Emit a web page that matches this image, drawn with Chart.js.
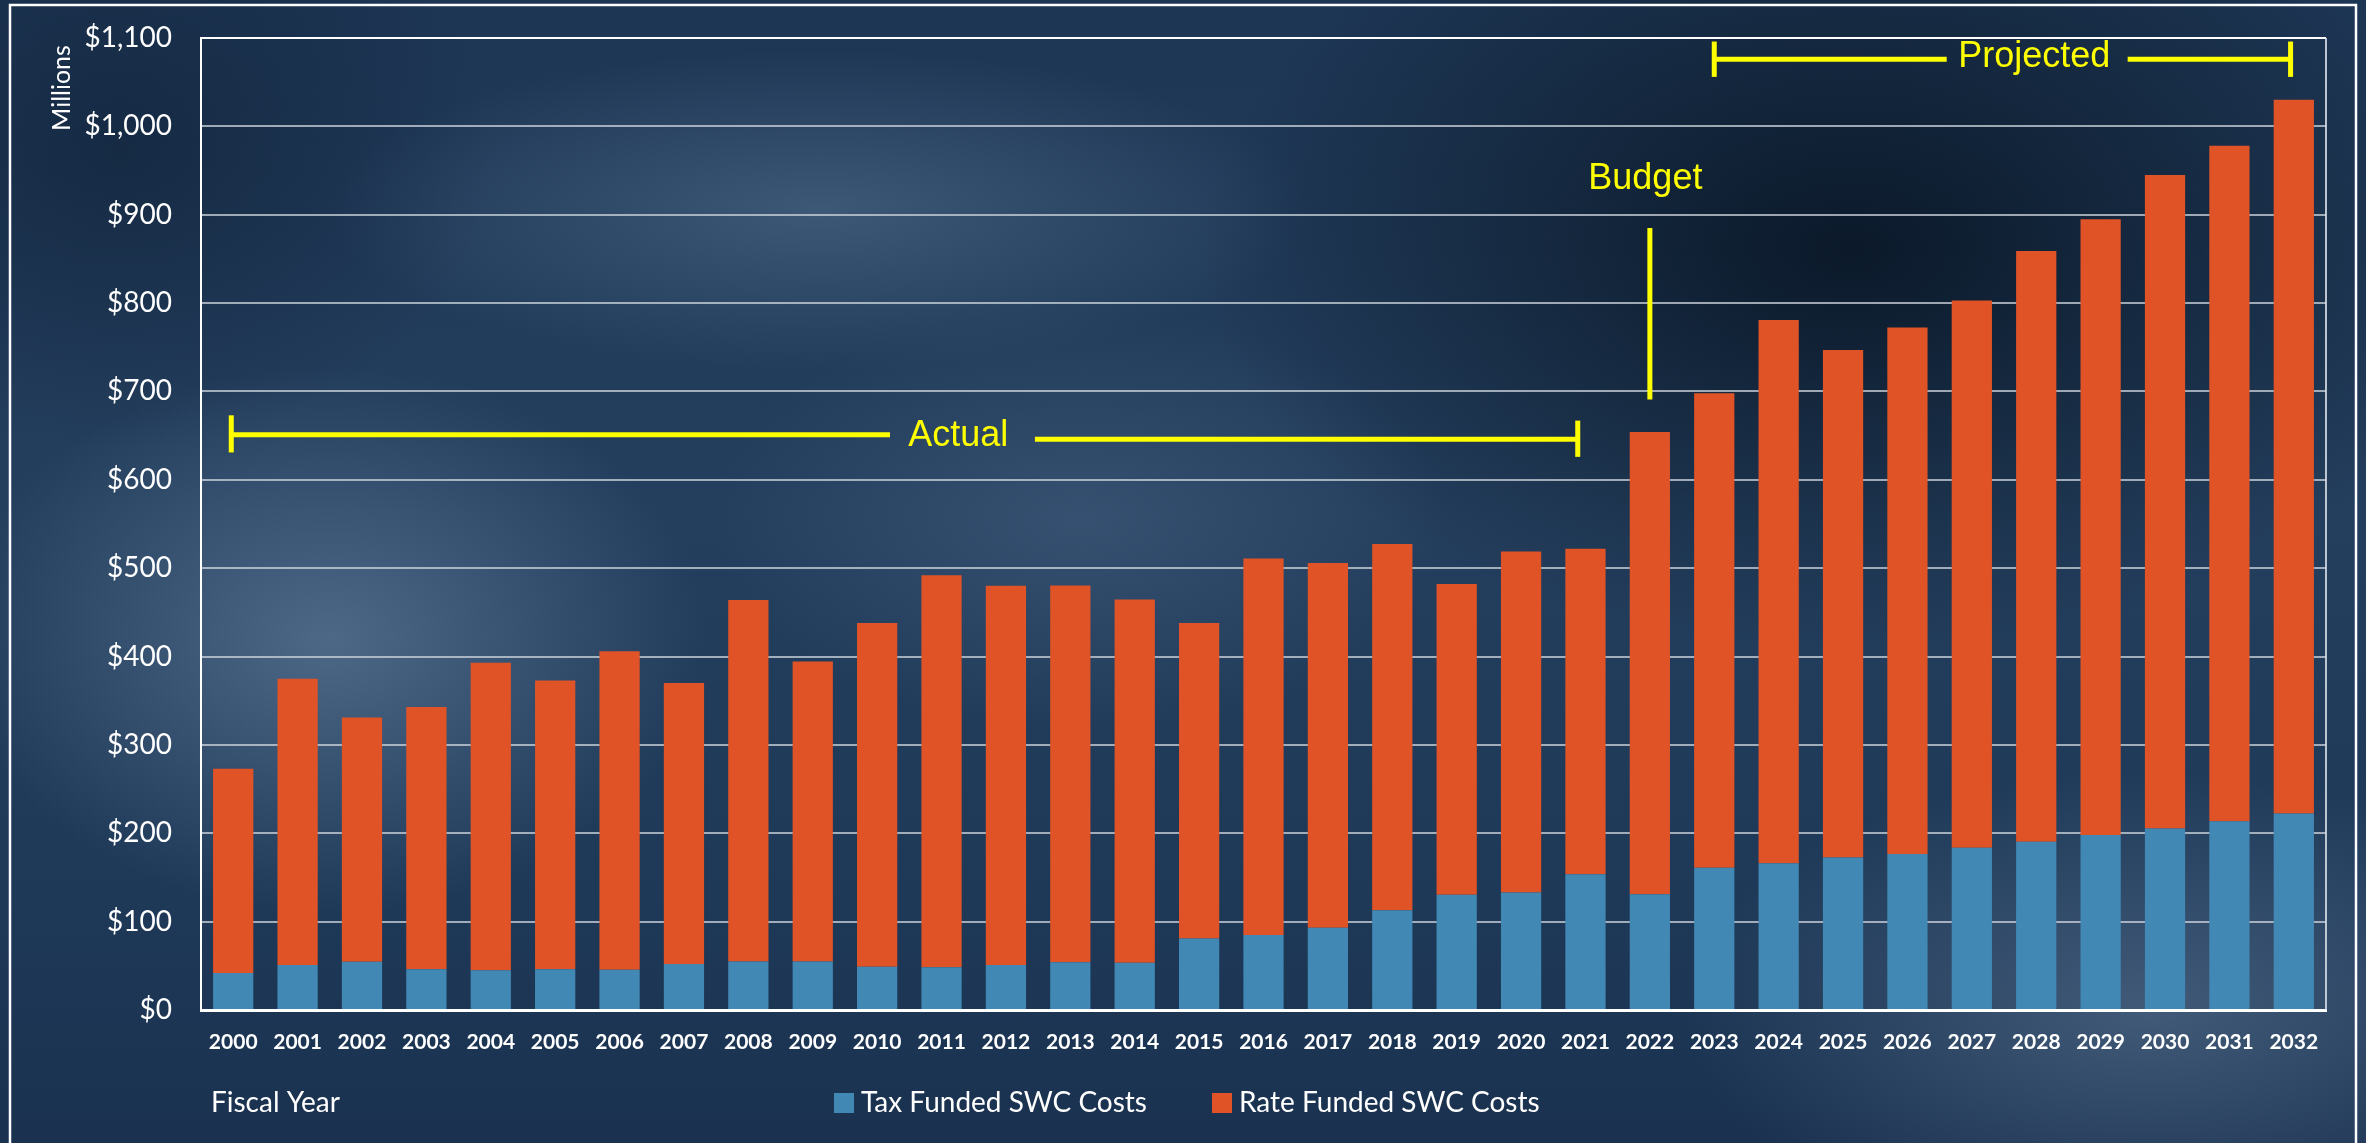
<!DOCTYPE html>
<html>
<head>
<meta charset="utf-8">
<title>SWC Costs by Fiscal Year</title>
<script src="https://cdn.jsdelivr.net/npm/chart.js@4/dist/chart.umd.min.js"></script>
<style>
  html, body { margin: 0; padding: 0; width: 2366px; height: 1143px; overflow: hidden; }
  body {
    background:
      radial-gradient(ellipse 520px 380px at 330px 640px, rgba(120,146,178,0.50), rgba(120,146,178,0) 72%),
      radial-gradient(ellipse 700px 230px at 820px 210px, rgba(105,132,165,0.40), rgba(105,132,165,0) 70%),
      radial-gradient(ellipse 520px 300px at 1080px 520px, rgba(95,122,155,0.30), rgba(95,122,155,0) 70%),
      radial-gradient(ellipse 650px 330px at 2150px 1010px, rgba(110,135,165,0.45), rgba(110,135,165,0) 72%),
      radial-gradient(ellipse 900px 560px at 1850px 250px, rgba(4,14,26,0.75), rgba(4,14,26,0) 72%),
      radial-gradient(ellipse 520px 420px at 120px 150px, rgba(10,24,44,0.45), rgba(10,24,44,0) 72%),
      linear-gradient(180deg, #1d3654 0%, #243f5e 45%, #1e3857 80%, #1a3250 100%);
  }
  #wrap { position: relative; width: 2366px; height: 1143px; }
</style>
</head>
<body>
<div id="wrap"><canvas id="chart" width="2366" height="1143"></canvas></div>
<script>
// Fiscal years on the category axis
const years = [
  '2000','2001','2002','2003','2004','2005','2006','2007','2008','2009','2010',
  '2011','2012','2013','2014','2015','2016','2017','2018','2019','2020','2021',
  '2022','2023','2024','2025','2026','2027','2028','2029','2030','2031','2032'
];

// Tax funded SWC costs, $ millions
const taxFunded = [
  42, 51, 54.5, 46, 45, 46, 45.5, 52, 55, 55, 49,
  48.5, 51, 54, 53.5, 81, 85, 93, 113, 130.5, 133, 153.5,
  131, 161, 166, 172.5, 176.5, 183.5, 190.5, 198, 205.5, 213.5, 222.5
];

// Rate funded SWC costs, $ millions
const rateFunded = [
  231, 324, 276.5, 297, 348, 327, 360.5, 318, 409, 339.5, 389,
  443.5, 429, 426.5, 411, 357, 426, 413, 414.5, 351.5, 386, 368.5,
  523, 537, 615, 574.5, 596, 619.5, 668.5, 697, 739.5, 764.5, 807.5
];

// Value axis range and step
const yMin = 0;
const yMax = 1100;
const yStep = 100;

const seriesNames = ['Tax Funded SWC Costs', 'Rate Funded SWC Costs'];
const xAxisName = 'Fiscal Year';
const yAxisUnit = 'Millions';

const TAX_COLOR = '#4189b4';
const RATE_COLOR = '#e05327';
const MARK_COLOR = '#ffff00';
const WHITE = '#ffffff';

// Outer slide frame and the border round the plot area
const framePlugin = {
  id: 'frame',
  beforeDraw(chart) {
    const c = chart.ctx;
    c.save();
    c.strokeStyle = WHITE;
    c.lineWidth = 2.5;
    c.strokeRect(10, 5, 2346, 1160);
    c.restore();
  },
  afterDatasetsDraw(chart) {
    const { ctx: c, chartArea: a } = chart;
    c.save();
    c.strokeStyle = WHITE;
    c.lineWidth = 2;
    c.beginPath();
    c.moveTo(a.left, a.top);
    c.lineTo(a.right, a.top);
    c.stroke();
    c.strokeStyle = 'rgba(215,222,230,0.85)';
    c.beginPath();
    c.moveTo(a.right, a.top);
    c.lineTo(a.right, a.bottom);
    c.stroke();
    c.restore();
  }
};

// Yellow period markers: Actual, Budget, Projected
const periodPlugin = {
  id: 'periods',
  afterDatasetsDraw(chart) {
    const c = chart.ctx;
    const x = chart.scales.x, y = chart.scales.y;
    const px = i => x.getPixelForValue(i);
    const py = v => y.getPixelForValue(v);
    c.save();
    c.strokeStyle = MARK_COLOR;
    c.fillStyle = MARK_COLOR;
    c.lineWidth = 5;
    c.lineCap = 'butt';
    const seg = (x1, y1, x2, y2) => {
      c.beginPath(); c.moveTo(x1, y1); c.lineTo(x2, y2); c.stroke();
    };
    c.font = '36px "Liberation Sans", Arial, sans-serif';
    c.textAlign = 'center';
    c.textBaseline = 'middle';

    // Actual: 2000 through 2021
    seg(px(-0.03), py(673), px(-0.03), py(631));
    seg(px(-0.03), py(651), px(10.2), py(651));
    c.fillText('Actual', px(11.26), py(650));
    seg(px(12.45), py(646), px(20.88), py(646));
    seg(px(20.88), py(667), px(20.88), py(626));

    // Budget: 2022
    seg(px(22), py(885), px(22), py(691));
    c.fillText('Budget', px(21.93), py(940));

    // Projected: 2023 through 2032
    seg(px(23), py(1096), px(23), py(1056));
    seg(px(23), py(1076), px(26.61), py(1076));
    c.fillText('Projected', px(27.97), py(1078));
    seg(px(29.42), py(1076), px(31.95), py(1076));
    seg(px(31.95), py(1096), px(31.95), py(1056));
    c.restore();
  }
};

// Unit label, axis name and series key
const textPlugin = {
  id: 'texts',
  afterDraw(chart) {
    const c = chart.ctx;
    c.save();
    c.fillStyle = WHITE;
    c.textBaseline = 'middle';

    // "Millions" running up the value axis
    c.save();
    c.translate(62, 88);
    c.rotate(-Math.PI / 2);
    c.textAlign = 'center';
    c.font = '25px Lato, "Open Sans", sans-serif';
    c.fillText(yAxisUnit, 0, 0);
    c.restore();

    const rowY = 1103;
    c.font = '28px Lato, "Open Sans", sans-serif';
    c.textAlign = 'left';
    c.fillText(xAxisName, 211, rowY);

    const keyX = [834, 1212];
    chart.data.datasets.forEach((ds, i) => {
      c.fillStyle = ds.backgroundColor;
      c.fillRect(keyX[i], rowY - 10, 20, 20);
      c.fillStyle = WHITE;
      c.fillText(ds.label, keyX[i] + 27, rowY);
    });
    c.restore();
  }
};

const ctx = document.getElementById('chart').getContext('2d');
new Chart(ctx, {
  type: 'bar',
  data: {
    labels: years,
    datasets: [
      { label: seriesNames[0], data: taxFunded, backgroundColor: TAX_COLOR,
        borderWidth: 0, barPercentage: 0.625, categoryPercentage: 1 },
      { label: seriesNames[1], data: rateFunded, backgroundColor: RATE_COLOR,
        borderWidth: 0, barPercentage: 0.625, categoryPercentage: 1 }
    ]
  },
  options: {
    responsive: false,
    animation: false,
    devicePixelRatio: 1,
    layout: { padding: { left: 0, right: 40, top: 38, bottom: 0 } },
    plugins: {
      legend: { display: false },
      tooltip: { enabled: false },
      title: { display: false }
    },
    scales: {
      x: {
        stacked: true,
        grid: { display: false, drawTicks: false },
        border: { color: WHITE, width: 3 },
        ticks: {
          color: WHITE,
          font: { family: 'Lato', weight: 'bold', size: 21 },
          padding: 20,
          maxRotation: 0,
          autoSkip: false
        },
        afterFit(scale) { scale.height = 133; }
      },
      y: {
        stacked: true,
        min: yMin,
        max: yMax,
        // invisible tick marks hold the gap between labels and the plot
        grid: {
          color: 'rgba(205,212,220,0.75)', lineWidth: 2,
          drawTicks: true, tickLength: 29, tickColor: 'rgba(0,0,0,0)'
        },
        border: { color: WHITE, width: 2 },
        ticks: {
          stepSize: yStep,
          color: WHITE,
          font: { family: 'Lato', size: 28 },
          padding: 0,
          callback: v => '$' + Number(v).toLocaleString('en-US')
        },
        afterFit(scale) { scale.width = 201; }
      }
    }
  },
  plugins: [framePlugin, periodPlugin, textPlugin]
});
</script>
</body>
</html>
